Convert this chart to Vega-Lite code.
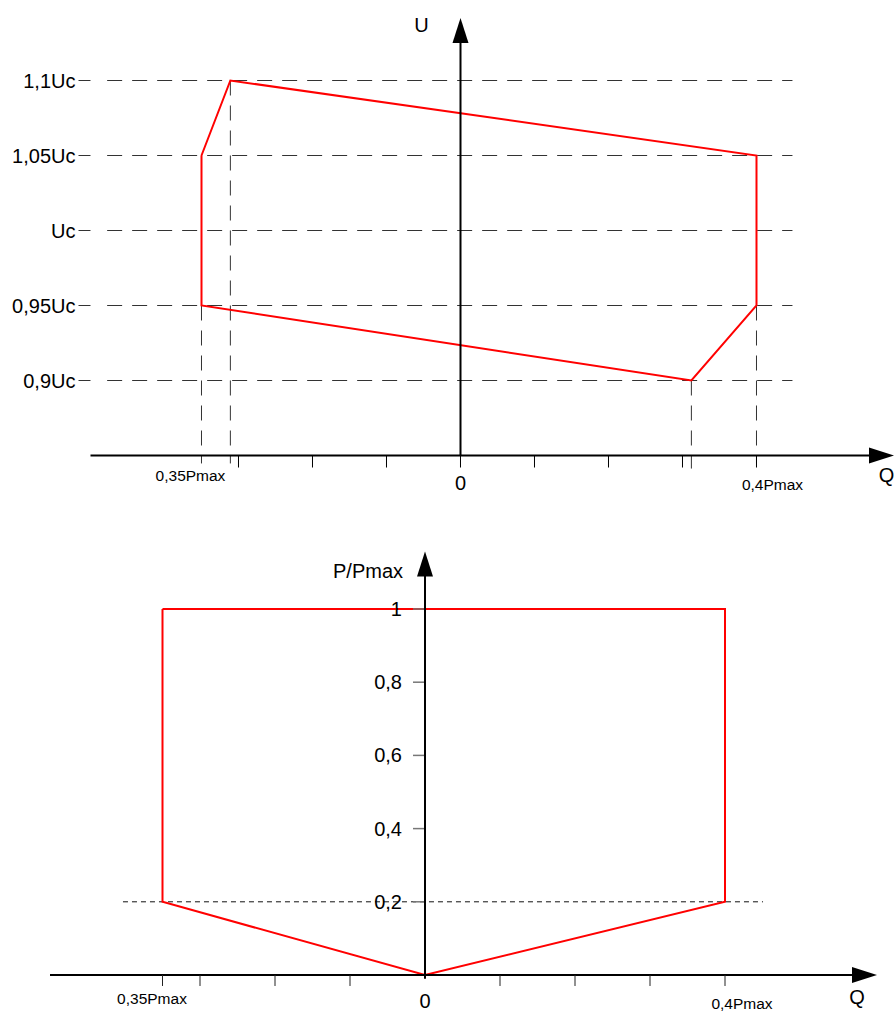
{
  "$schema": "https://vega.github.io/schema/vega-lite/v6.json",
  "padding": 0,
  "spacing": 0,
  "config": {"view": {"stroke": null}, "text": {"font": "Liberation Sans", "color": "#000"}},
  "vconcat": [
    {
      "width": 894,
      "height": 505,
      "encoding": {
        "x": {"field": "q", "type": "quantitative", "scale": {"domain": [-0.622297, 0.585811], "nice": false, "zero": false}, "axis": null},
        "y": {"field": "v", "type": "quantitative", "scale": {"domain": [0.817, 1.153667], "nice": false, "zero": false}, "axis": null}
      },
      "layer": [
        {
          "data": {"values": [
            {"v": 1.1, "q": -0.4775, "q2": 0.4486},
            {"v": 1.05, "q": -0.4775, "q2": 0.4486},
            {"v": 1.0, "q": -0.4775, "q2": 0.4486},
            {"v": 0.95, "q": -0.4775, "q2": 0.4486},
            {"v": 0.9, "q": -0.4775, "q2": 0.4486}
          ]},
          "mark": {"type": "rule", "color": "#333", "strokeWidth": 1, "strokeDash": [15, 10]},
          "encoding": {"x2": {"field": "q2"}}
        },
        {
          "data": {"values": [
            {"v": 1.1, "q": -0.5162, "q2": -0.5},
            {"v": 1.05, "q": -0.5162, "q2": -0.5},
            {"v": 1.0, "q": -0.5162, "q2": -0.5},
            {"v": 0.95, "q": -0.5162, "q2": -0.5},
            {"v": 0.9, "q": -0.5162, "q2": -0.5}
          ]},
          "mark": {"type": "rule", "color": "#333", "strokeWidth": 1},
          "encoding": {"x2": {"field": "q2"}}
        },
        {
          "data": {"values": [
            {"q": -0.35, "v": 0.95, "v2": 0.8447},
            {"q": -0.311, "v": 1.1, "v2": 0.8447},
            {"q": 0.312, "v": 0.9, "v2": 0.8413},
            {"q": 0.4, "v": 1.05, "v2": 0.8447}
          ]},
          "mark": {"type": "rule", "color": "#333", "strokeWidth": 1, "strokeDash": [15, 10]},
          "encoding": {"y2": {"field": "v2"}}
        },
        {
          "data": {"values": [
            {"i": 0, "q": -0.35, "v": 1.05},
            {"i": 1, "q": -0.311, "v": 1.1},
            {"i": 2, "q": 0.4, "v": 1.05},
            {"i": 3, "q": 0.4, "v": 0.95},
            {"i": 4, "q": 0.312, "v": 0.9},
            {"i": 5, "q": -0.35, "v": 0.95},
            {"i": 6, "q": -0.35, "v": 1.05}
          ]},
          "mark": {"type": "line", "color": "#ff0000", "strokeWidth": 2},
          "encoding": {"order": {"field": "i", "type": "quantitative"}}
        },
        {
          "data": {"values": [
            {"q": -0.5, "q2": 0.567, "v": 0.85, "v2": 0.85},
            {"q": 0, "q2": 0, "v": 0.85, "v2": 1.125}
          ]},
          "mark": {"type": "rule", "color": "#000", "strokeWidth": 2},
          "encoding": {"x2": {"field": "q2"}, "y2": {"field": "v2"}}
        },
        {
          "data": {"values": [
            {"q": -0.3, "v": 0.85, "v2": 0.842},
            {"q": -0.2, "v": 0.85, "v2": 0.842},
            {"q": -0.1, "v": 0.85, "v2": 0.842},
            {"q": 0, "v": 0.85, "v2": 0.842},
            {"q": 0.1, "v": 0.85, "v2": 0.842},
            {"q": 0.2, "v": 0.85, "v2": 0.842},
            {"q": 0.3, "v": 0.85, "v2": 0.842},
            {"q": 0.4, "v": 0.85, "v2": 0.842}
          ]},
          "mark": {"type": "rule", "color": "#000", "strokeWidth": 1},
          "encoding": {"y2": {"field": "v2"}}
        },
        {
          "data": {"values": [{"q": 0, "v": 1.13333}]},
          "mark": {"type": "point", "shape": "M0,-1L-0.64,1L0.64,1Z", "size": 625, "filled": true, "color": "#000", "opacity": 1, "strokeWidth": 0}
        },
        {
          "data": {"values": [{"q": 0.5689, "v": 0.85}]},
          "mark": {"type": "point", "shape": "M1,0L-1,-0.64L-1,0.64Z", "size": 625, "filled": true, "color": "#000", "opacity": 1, "strokeWidth": 0}
        },
        {
          "data": {"values": [
            {"label": "1,1Uc", "v": 1.1, "q": -0.5203},
            {"label": "1,05Uc", "v": 1.05, "q": -0.5203},
            {"label": "Uc", "v": 1.0, "q": -0.5203},
            {"label": "0,95Uc", "v": 0.95, "q": -0.5203},
            {"label": "0,9Uc", "v": 0.9, "q": -0.5203}
          ]},
          "mark": {"type": "text", "align": "right", "baseline": "middle", "fontSize": 20, "dy": 1},
          "encoding": {"text": {"field": "label"}}
        },
        {
          "data": {"values": [
            {"label": "U", "q": -0.0527, "v": 1.13667},
            {"label": "Q", "q": 0.5757, "v": 0.83667},
            {"label": "0", "q": 0, "v": 0.83167}
          ]},
          "mark": {"type": "text", "align": "center", "baseline": "middle", "fontSize": 20, "dy": 1},
          "encoding": {"text": {"field": "label"}}
        },
        {
          "data": {"values": [
            {"label": "0,35Pmax", "q": -0.3649, "v": 0.83667},
            {"label": "0,4Pmax", "q": 0.4216, "v": 0.83133}
          ]},
          "mark": {"type": "text", "align": "center", "baseline": "middle", "fontSize": 15.5, "dy": 1},
          "encoding": {"text": {"field": "label"}}
        }
      ]
    },
    {
      "width": 894,
      "height": 506,
      "encoding": {
        "x": {"field": "q", "type": "quantitative", "scale": {"domain": [-0.566667, 0.625333], "nice": false, "zero": false}, "axis": null},
        "y": {"field": "v", "type": "quantitative", "scale": {"domain": [-0.098361, 1.284153], "nice": false, "zero": false}, "axis": null}
      },
      "layer": [
        {
          "data": {"values": [{"v": 0.2, "q": -0.4027, "q2": 0.4507}]},
          "mark": {"type": "rule", "color": "#111", "strokeWidth": 1, "strokeDash": [5, 4]},
          "encoding": {"x2": {"field": "q2"}}
        },
        {
          "data": {"values": [
            {"i": 0, "q": -0.35, "v": 1},
            {"i": 1, "q": 0.4, "v": 1},
            {"i": 2, "q": 0.4, "v": 0.2},
            {"i": 3, "q": 0, "v": 0},
            {"i": 4, "q": -0.35, "v": 0.2},
            {"i": 5, "q": -0.35, "v": 1}
          ]},
          "mark": {"type": "line", "color": "#ff0000", "strokeWidth": 2},
          "encoding": {"order": {"field": "i", "type": "quantitative"}}
        },
        {
          "data": {"values": [
            {"q": -0.016, "q2": 0, "v": 1, "v2": 1},
            {"q": -0.016, "q2": 0, "v": 0.8, "v2": 0.8},
            {"q": -0.016, "q2": 0, "v": 0.6, "v2": 0.6},
            {"q": -0.016, "q2": 0, "v": 0.4, "v2": 0.4},
            {"q": -0.016, "q2": 0, "v": 0.2, "v2": 0.2}
          ]},
          "mark": {"type": "rule", "color": "#777", "strokeWidth": 1.5},
          "encoding": {"x2": {"field": "q2"}, "y2": {"field": "v2"}}
        },
        {
          "data": {"values": [
            {"q": -0.5, "q2": 0.5693, "v": 0, "v2": 0},
            {"q": 0, "q2": 0, "v": -0.01, "v2": 1.0929}
          ]},
          "mark": {"type": "rule", "color": "#000", "strokeWidth": 2},
          "encoding": {"x2": {"field": "q2"}, "y2": {"field": "v2"}}
        },
        {
          "data": {"values": [
            {"q": -0.35, "v": 0, "v2": -0.03},
            {"q": -0.3, "v": 0, "v2": -0.03},
            {"q": -0.2, "v": 0, "v2": -0.03},
            {"q": -0.1, "v": 0, "v2": -0.03},
            {"q": 0.1, "v": 0, "v2": -0.03},
            {"q": 0.2, "v": 0, "v2": -0.03},
            {"q": 0.3, "v": 0, "v2": -0.03},
            {"q": 0.4, "v": 0, "v2": -0.03}
          ]},
          "mark": {"type": "rule", "color": "#222", "strokeWidth": 1},
          "encoding": {"y2": {"field": "v2"}}
        },
        {
          "data": {"values": [{"q": 0, "v": 1.1230}]},
          "mark": {"type": "point", "shape": "M0,-1L-0.64,1L0.64,1Z", "size": 625, "filled": true, "color": "#000", "opacity": 1, "strokeWidth": 0}
        },
        {
          "data": {"values": [{"q": 0.586, "v": 0}]},
          "mark": {"type": "point", "shape": "M1,0L-1,-0.64L-1,0.64Z", "size": 625, "filled": true, "color": "#000", "opacity": 1, "strokeWidth": 0}
        },
        {
          "data": {"values": [
            {"label": "1", "v": 1, "q": -0.0307},
            {"label": "0,8", "v": 0.8, "q": -0.0307},
            {"label": "0,6", "v": 0.6, "q": -0.0307},
            {"label": "0,4", "v": 0.4, "q": -0.0307},
            {"label": "0,2", "v": 0.2, "q": -0.0307}
          ]},
          "mark": {"type": "text", "align": "right", "baseline": "middle", "fontSize": 20, "dy": 1},
          "encoding": {"text": {"field": "label"}}
        },
        {
          "data": {"values": [
            {"label": "P/Pmax", "q": -0.0293, "v": 1.1038}
          ]},
          "mark": {"type": "text", "align": "right", "baseline": "middle", "fontSize": 20, "dy": 1},
          "encoding": {"text": {"field": "label"}}
        },
        {
          "data": {"values": [
            {"label": "Q", "q": 0.576, "v": -0.0601},
            {"label": "0", "q": 0, "v": -0.0705}
          ]},
          "mark": {"type": "text", "align": "center", "baseline": "middle", "fontSize": 20, "dy": 1},
          "encoding": {"text": {"field": "label"}}
        },
        {
          "data": {"values": [
            {"label": "0,35Pmax", "q": -0.364, "v": -0.0628},
            {"label": "0,4Pmax", "q": 0.4227, "v": -0.0765}
          ]},
          "mark": {"type": "text", "align": "center", "baseline": "middle", "fontSize": 15.5, "dy": 1},
          "encoding": {"text": {"field": "label"}}
        }
      ]
    }
  ]
}
